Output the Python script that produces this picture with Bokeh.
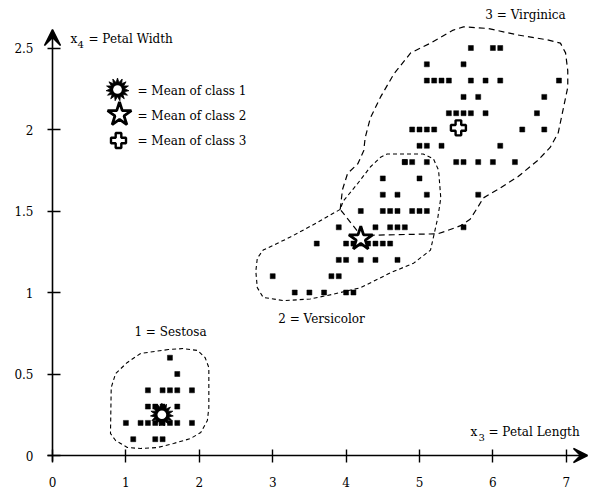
import math
from bokeh.plotting import figure
from bokeh.models import FixedTicker, Arrow, VeeHead, Range1d
from bokeh.embed import file_html
from bokeh.resources import INLINE
from bokeh.core.properties import value

# ---------------- data (petal length x3, petal width x4) ----------------
setosa_x = [1.1, 1.4, 1.5, 1.0, 1.2, 1.3, 1.4, 1.5, 1.6, 1.7, 1.9,
            1.3, 1.4, 1.5, 1.7, 1.3, 1.5, 1.6, 1.7, 1.9, 1.7, 1.6]
setosa_y = [0.1, 0.1, 0.1, 0.2, 0.2, 0.2, 0.2, 0.2, 0.2, 0.2, 0.2,
            0.3, 0.3, 0.3, 0.3, 0.4, 0.4, 0.4, 0.4, 0.4, 0.5, 0.6]

versicolor_x = [3.3, 3.5, 3.7, 4.0, 4.1,
                3.0, 3.8, 3.9,
                3.9, 4.0, 4.2, 4.4, 4.7,
                3.6, 4.0, 4.1, 4.2, 4.3, 4.4, 4.5, 4.6,
                3.9, 4.4, 4.6, 4.7, 4.8,
                4.2, 4.5, 4.6, 4.7, 4.9,
                4.5, 4.7, 5.1,
                5.0, 4.8]
versicolor_y = [1.0, 1.0, 1.0, 1.0, 1.0,
                1.1, 1.1, 1.1,
                1.2, 1.2, 1.2, 1.2, 1.2,
                1.3, 1.3, 1.3, 1.3, 1.3, 1.3, 1.3, 1.3,
                1.4, 1.4, 1.4, 1.4, 1.4,
                1.5, 1.5, 1.5, 1.5, 1.5,
                1.6, 1.6, 1.6,
                1.7, 1.8]

virginica_x = [5.6, 5.0, 5.1, 5.8, 4.5,
               4.8, 4.9, 5.1, 5.5, 5.6, 5.8, 6.0, 6.3,
               5.0, 5.1, 5.3, 6.1,
               4.9, 5.0, 5.1, 5.2, 6.4, 6.7,
               5.4, 5.5, 5.6, 5.7, 5.9, 6.6,
               5.6, 5.8, 6.7,
               5.1, 5.2, 5.3, 5.4, 5.7, 5.9, 6.1, 6.9,
               5.1, 5.6,
               5.7, 6.0, 6.1]
virginica_y = [1.4, 1.5, 1.5, 1.6, 1.7,
               1.8, 1.8, 1.8, 1.8, 1.8, 1.8, 1.8, 1.8,
               1.9, 1.9, 1.9, 1.9,
               2.0, 2.0, 2.0, 2.0, 2.0, 2.0,
               2.1, 2.1, 2.1, 2.1, 2.1, 2.1,
               2.2, 2.2, 2.2,
               2.3, 2.3, 2.3, 2.3, 2.3, 2.3, 2.3, 2.3,
               2.4, 2.4,
               2.5, 2.5, 2.5]

mean_x = [1.49, 4.2, 5.53]
mean_y = [0.25, 1.33, 2.01]

# hand-drawn class boundaries (dashed), data units
setosa_out_x = [1.58, 1.20, 1.02, 0.86, 0.80, 0.79, 0.86, 1.02, 1.20, 1.43, 1.65,
                1.88, 2.02, 2.11, 2.13, 2.13, 2.08, 1.98, 1.78]
setosa_out_y = [0.65, 0.626, 0.571, 0.503, 0.417, 0.135, 0.092, 0.049, 0.043, 0.049, 0.074,
                0.104, 0.141, 0.215, 0.294, 0.54, 0.60, 0.644, 0.656]

versi_out_x = [3.92, 3.61, 3.24, 2.87, 2.79, 2.77, 2.79, 2.87, 3.15, 3.51, 3.83, 4.20,
               4.60, 4.92, 5.15, 5.19, 5.25, 5.29, 5.26, 5.19, 5.05, 4.56, 4.47, 4.33,
               4.16, 3.96]
versi_out_y = [1.51, 1.43, 1.34, 1.26, 1.21, 1.13, 1.03, 0.97, 0.95, 0.96, 0.99, 1.03,
               1.12, 1.18, 1.26, 1.34, 1.46, 1.58, 1.75, 1.82, 1.85, 1.85, 1.83, 1.77,
               1.67, 1.56]

virg_out_x = [3.92, 3.95, 4.02, 4.16, 4.24, 4.26, 4.33, 4.47, 4.65, 4.88, 5.15, 5.46,
              5.60, 5.93, 6.34, 6.74, 6.92, 6.99, 7.02, 7.02, 6.96, 6.89, 6.78, 6.61,
              6.34, 6.06, 5.87, 5.79, 5.69, 5.56, 5.38, 5.25, 4.20]
virg_out_y = [1.51, 1.63, 1.73, 1.79, 1.87, 1.95, 2.07, 2.20, 2.34, 2.47, 2.53, 2.61,
              2.63, 2.62, 2.58, 2.55, 2.53, 2.47, 2.36, 2.26, 2.13, 1.98, 1.89, 1.81,
              1.71, 1.63, 1.58, 1.52, 1.45, 1.41, 1.38, 1.36, 1.35]

x_ticks = [0, 1, 2, 3, 4, 5, 6, 7]
x_tick_labels = ["0", "1", "2", "3", "4", "5", "6", "7"]
y_ticks = [0, 0.5, 1, 1.5, 2, 2.5]
y_tick_labels = ["0", "0.5", "1", "1.5", "2", "2.5"]

class_labels = ["1 = Sestosa", "2 = Versicolor", "3 = Virginica"]
legend_labels = ["= Mean of class 1", "= Mean of class 2", "= Mean of class 3"]

# ---------------- layout helpers (reference-pixel -> data) ----------------
X0, SX, Y0, SY = 52.0, 73.4, 455.0, 163.0
def dx(px):
    return (px - X0) / SX
def dy(py):
    return (Y0 - py) / SY

FONT = value("DejaVu Serif")
W, H = 591, 489

p = figure(width=W, height=H, output_backend="svg", toolbar_location=None,
           x_range=Range1d(dx(0), dx(W)), y_range=Range1d(dy(H), dy(0)),
           min_border_left=0, min_border_right=0, min_border_top=0,
           min_border_bottom=0)
p.outline_line_color = None
p.grid.visible = False
p.background_fill_color = "white"
p.border_fill_color = "white"

for ax in (p.xaxis[0], p.yaxis[0]):
    ax.fixed_location = 0
    ax.axis_line_color = None
    ax.minor_tick_line_color = None
    ax.major_tick_line_color = "black"
    ax.major_tick_line_width = 1.4
    ax.major_label_text_font = "DejaVu Serif"
    ax.major_label_text_font_size = "12px"
    ax.major_label_text_color = "black"

p.xaxis[0].ticker = FixedTicker(ticks=x_ticks)
p.xaxis[0].major_label_overrides = {t: l for t, l in zip(x_ticks, x_tick_labels)}
p.xaxis[0].major_tick_in = 6
p.xaxis[0].major_tick_out = 7
p.xaxis[0].major_label_standoff = 14

p.yaxis[0].ticker = FixedTicker(ticks=y_ticks)
p.yaxis[0].major_label_overrides = {t: l for t, l in zip(y_ticks, y_tick_labels)}
p.yaxis[0].major_tick_in = 8
p.yaxis[0].major_tick_out = 5
p.yaxis[0].major_label_standoff = 14

# axis arrows
p.add_layout(Arrow(end=VeeHead(size=14, fill_color="black", line_color="black",
                               line_width=1.5),
                   x_start=dx(47), y_start=0, x_end=dx(587), y_end=0,
                   line_color="black", line_width=1.6))
p.add_layout(Arrow(end=VeeHead(size=16, fill_color="black", line_color="black",
                               line_width=1.5),
                   x_start=0, y_start=dy(461), x_end=0, y_end=dy(29),
                   line_color="black", line_width=1.6))

# boundaries
def closed(a):
    return list(a) + [a[0]]
p.line(closed(setosa_out_x), closed(setosa_out_y), line_color="black",
       line_width=1.1, line_dash="4 3")
p.line(closed(versi_out_x), closed(versi_out_y), line_color="black",
       line_width=1.1, line_dash="4 3")
p.line(closed(virg_out_x), closed(virg_out_y), line_color="black",
       line_width=1.2, line_dash="6 4")

# data points
for xs, ys in ((setosa_x, setosa_y), (versicolor_x, versicolor_y), (virginica_x, virginica_y)):
    p.scatter(xs, ys, marker="square", size=5, fill_color="black", line_color="black",
              line_width=0.5)

# mean markers (class 1 burst, class 2 star, class 3 plus)
def burst(x, y, s):
    for k in range(3):
        p.scatter([x], [y], marker="star", size=s, angle=k * math.radians(24),
                  fill_color="black", line_color="black", line_width=0.8)
    p.scatter([x], [y], marker="circle", size=s * 0.38, fill_color="white",
              line_color=None)

def star(x, y, s):
    p.scatter([x], [y], marker="star", size=s, fill_color="white",
              line_color="black", line_width=2.8)

def plus(x, y, s):
    p.scatter([x], [y], marker="plus", size=s, fill_color="white",
              line_color="black", line_width=2.4)

burst(mean_x[0], mean_y[0], 23)
star(mean_x[1], mean_y[1], 25)
plus(mean_x[2], mean_y[2], 15)

# legend
burst(dx(117), dy(89), 23)
star(dx(119), dy(114), 25)
plus(dx(118), dy(140), 15)
p.text([dx(137)] * 3, [dy(90), dy(115), dy(140)], text=legend_labels,
       text_font=FONT, text_font_size="12px", text_align="left",
       text_baseline="middle", text_color="black")

# class labels
p.text([dx(170), dx(321), dx(525)], [dy(331), dy(318), dy(14)], text=class_labels,
       text_font=FONT, text_font_size="12px", text_align="center",
       text_baseline="middle", text_color="black")

# axis titles with subscripts
p.text([dx(70)], [dy(38)], text=["x"], text_font=FONT, text_font_size="12px",
       text_align="left", text_baseline="middle")
p.text([dx(77)], [dy(44)], text=["4"], text_font=FONT, text_font_size="10px",
       text_align="left", text_baseline="middle")
p.text([dx(88)], [dy(38)], text=["= Petal Width"], text_font=FONT, text_font_size="12px",
       text_align="left", text_baseline="middle")

p.text([dx(470)], [dy(431)], text=["x"], text_font=FONT, text_font_size="12px",
       text_align="left", text_baseline="middle")
p.text([dx(478)], [dy(437)], text=["3"], text_font=FONT, text_font_size="10px",
       text_align="left", text_baseline="middle")
p.text([dx(488)], [dy(431)], text=["= Petal Length"], text_font=FONT, text_font_size="12px",
       text_align="left", text_baseline="middle")

open("out.html", "w").write(file_html(p, INLINE))
